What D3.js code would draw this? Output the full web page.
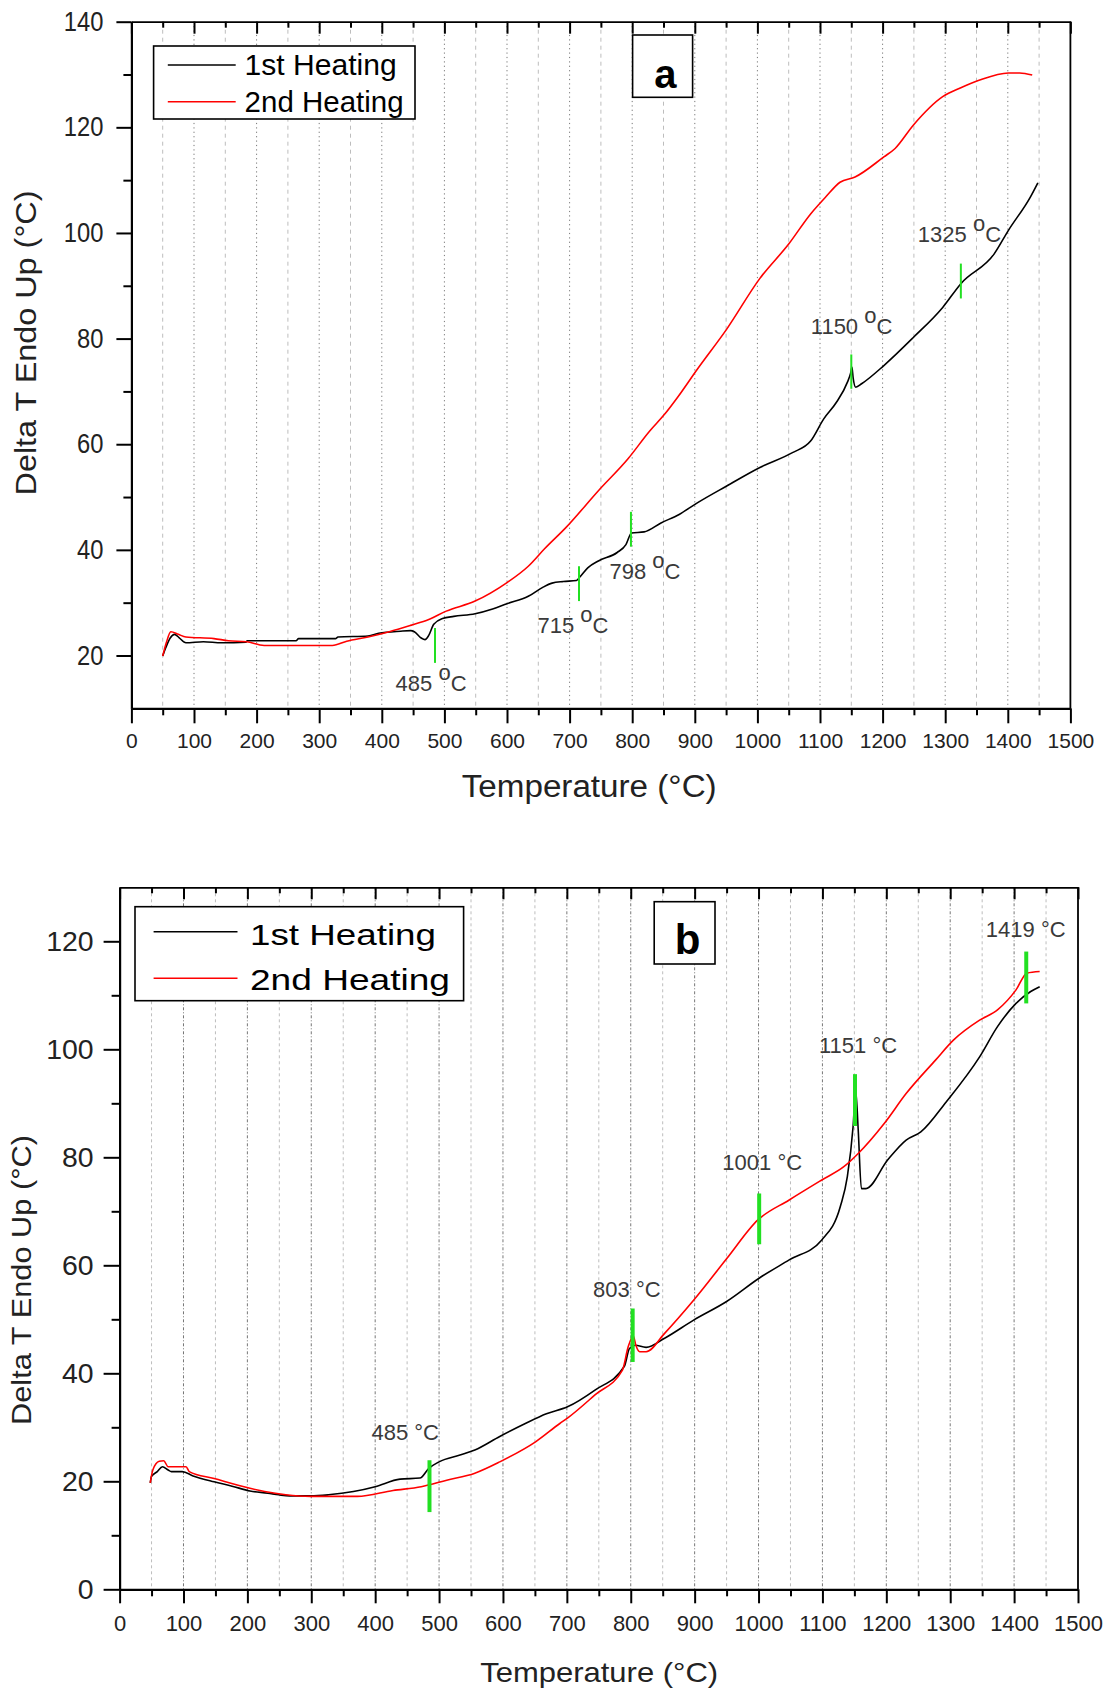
<!DOCTYPE html>
<html>
<head>
<meta charset="utf-8">
<script src="https://cdn.jsdelivr.net/npm/d3@7"></script>
<style>
  body { margin: 0; background: #fff; }
  svg { display: block; }
  text { font-family: "Liberation Sans", Arial, sans-serif; }
</style>
</head>
<body>
<svg id="chart" width="1114" height="1695"></svg>
<script>
// ---- axis ticks ----
const xTickValues = [0, 100, 200, 300, 400, 500, 600, 700, 800, 900, 1000, 1100, 1200, 1300, 1400, 1500];
const xMinorTicks = [50, 150, 250, 350, 450, 550, 650, 750, 850, 950, 1050, 1150, 1250, 1350, 1450];
const yTicksA = [20, 40, 60, 80, 100, 120, 140];
const yMinorA = [30, 50, 70, 90, 110, 130];
const yTicksB = [0, 20, 40, 60, 80, 100, 120];
const yMinorB = [10, 30, 50, 70, 90, 110];

const seriesNames = ["1st Heating", "2nd Heating"];

// ---- panel a: DTA traces [temperature, delta T] ----
const aHeat1 = [[50,19.9],[55,21.5],[62,23.3],[69,24.0],[76,23.4],[87,22.4],[115,22.6],[144,22.4],[183,22.5],[185,22.8],
  [263,22.8],[267,23.2],[326,23.2],[330,23.5],[378,23.7],[395,24.2],[430,24.6],[446,24.7],[452,24.5],[463,23.3],
  [469,23.0],[475,23.8],[483,25.9],[497,27.0],[515,27.4],[549,27.9],[577,28.8],[600,29.8],[634,31.2],[657,32.9],
  [672,33.7],[690,34.0],[711,34.2],[716,34.8],[729,36.6],[746,37.9],[776,39.5],[790,41.0],[799,43.2],[819,43.4],
  [846,45.1],[875,46.7],[904,48.9],[951,52.1],[1004,55.6],[1056,58.4],[1085,60.6],[1106,64.8],[1126,67.9],[1144,71.8],
  [1149,73.5],[1151,74.6],[1153,72.5],[1157,70.8],[1167,71.5],[1202,74.9],[1249,80.2],[1296,85.9],[1325,90.4],
  [1378,96.0],[1401,100.5],[1436,106.8],[1448,109.5]];
const aHeat2 = [[50,19.9],[56,22.5],[63,24.5],[75,24.0],[87,23.5],[132,23.2],[155,22.8],[184,22.6],[212,21.9],[321,21.9],
  [344,22.7],[378,23.5],[412,24.5],[446,25.7],[475,26.8],[503,28.4],[549,30.3],[600,33.8],[634,36.9],[660,40.2],
  [694,44.2],[746,51.2],[793,57.2],[828,62.5],[852,65.7],[872,68.8],[904,74.2],[951,81.8],[1004,91.4],[1050,97.9],
  [1085,103.6],[1109,106.8],[1132,109.6],[1156,110.6],[1202,114.4],[1220,116.0],[1249,120.4],[1296,125.8],[1325,127.5],
  [1354,128.9],[1401,130.3],[1419,130.3],[1439,129.9]];
const aEvents = [485, 715, 798, 1150, 1325];
const aEventSpan = [[18.6,25.2],[30.3,36.9],[40.6,47.2],[70.5,77.0],[87.6,94.2]];

// ---- panel b ----
const bHeat1 = [[48,19.7],[50,20.9],[59,21.8],[67,22.7],[76,22.1],[81,21.8],[98,21.8],[115,21.0],[148,19.9],[176,19.1],
  [204,18.2],[232,17.8],[249,17.5],[266,17.3],[299,17.3],[327,17.5],[366,18.1],[400,19.0],[439,20.4],[470,20.6],
  [484,22.4],[500,23.6],[534,24.9],[556,25.8],[595,28.3],[635,30.7],[668,32.5],[701,33.8],[744,36.9],[790,41.3],
  [798,44.6],[807,45.2],[824,44.8],[853,46.5],[899,49.9],[950,53.3],[1002,57.7],[1048,61.0],[1099,64.7],[1128,70.9],
  [1139,76.4],[1148,85.7],[1152,92.5],[1156,85.1],[1161,74.2],[1168,74.2],[1202,79.5],[1231,83.2],[1254,84.7],
  [1294,90.3],[1346,98.6],[1374,104.2],[1403,108.5],[1426,110.7],[1440,111.6]];
const bHeat2 = [[48,19.7],[52,22.1],[62,23.7],[69,23.8],[76,22.7],[104,22.7],[109,21.8],[148,20.5],[204,18.7],[227,18.1],
  [260,17.5],[299,17.2],[372,17.2],[428,18.3],[472,19.0],[512,20.2],[556,21.5],[595,23.6],[651,27.3],[689,30.7],
  [701,31.7],[744,36.0],[787,40.6],[796,44.9],[804,46.9],[808,45.2],[814,44.0],[824,44.0],[853,47.4],[899,53.6],
  [950,61.2],[999,68.4],[1048,72.1],[1099,75.8],[1134,78.3],[1156,80.7],[1197,86.3],[1231,91.8],
  [1277,98.0],[1305,101.7],[1346,105.4],[1374,107.3],[1403,111.0],[1420,114.1],[1440,114.4]];
const bEvents = [485, 803, 1001, 1151, 1419];
const bEventSpan = [[14.3,23.9],[42.1,52.0],[63.9,73.3],[85.8,95.4],[108.5,118.1]];

const svg = d3.select("#chart");

const panels = [
  {
    tag: "a", left: 131.4, right: 1070.4, top: 21.7, bottom: 708.3, yDomain: [10, 140],
    yTicks: yTicksA, yMinor: yMinorA, heat: [aHeat1, aHeat2], events: aEvents, spans: aEventSpan,
    xFont: 21, xTick: 15, xPad: 10, yFont: 27, yTick: 15, yPad: 13, yDigitW: 13.2,
    majorDash: "1.2,3.2", minorDash: "4,4", markerW: 2, labelFont: 22, degStyle: "sup",
    labelOff: [[-39.4, 63.3], [-41.5, 66.7], [-21.5, 67.3], [-40.5, -20.7], [-43, -21.6]],
    legend: { x0: 153.6, x1: 415, y0: 46, y1: 119, lx0: 167.8, lx1: 235.7, ly: [65, 101.7], tx: 244.6, ty: [75, 111.7], font: 30, tlen: [152, 159] },
    badge: { x0: 632.6, x1: 692.6, y0: 35, y1: 97.3, cx: 665.4, by: 87.5, font: 40 },
    xTitle: { cx: 589.2, by: 797, font: 31, len: 255 },
    yTitle: { bx: 36, cy: 343, font: 29, len: 305 }
  },
  {
    tag: "b", left: 119.6, right: 1078, top: 887.3, bottom: 1589.3, yDomain: [0, 130],
    yTicks: yTicksB, yMinor: yMinorB, heat: [bHeat1, bHeat2], events: bEvents, spans: bEventSpan,
    xFont: 22, xTick: 14, xPad: 12.5, yFont: 28, yTick: 16, yPad: 10, yDigitW: 15.8,
    majorDash: "3,2,1,2", minorDash: "3,3", markerW: 4, labelFont: 22, degStyle: "deg",
    labelOff: [[-58, -20], [-39.6, -11.6], [-36.8, -23.3], [-36, -21.6], [-40.4, -15]],
    legend: { x0: 135, x1: 463.6, y0: 906.7, y1: 1000.7, lx0: 153.6, lx1: 237.5, ly: [931.7, 978.3], tx: 250, ty: [945, 990], font: 30, tlen: [186, 200] },
    badge: { x0: 654.2, x1: 715, y0: 901.7, y1: 964, cx: 687.5, by: 953.5, font: 42 },
    xTitle: { cx: 599.2, by: 1681.7, font: 28, len: 238 },
    yTitle: { bx: 31, cy: 1280, font: 28, len: 290 }
  }
];

const colors = ["#000000", "#ff0000"];
const green = "#22e022";

panels.forEach(p => {
  const g = svg.append("g");
  const x = d3.scaleLinear().domain([0, 1500]).range([p.left, p.right]);
  const y = d3.scaleLinear().domain(p.yDomain).range([p.bottom, p.top]);

  // vertical grid lines
  g.append("g").selectAll("line").data(xMinorTicks).join("line")
    .attr("x1", d => x(d)).attr("x2", d => x(d))
    .attr("y1", p.top).attr("y2", p.bottom)
    .attr("stroke", "#bdbdbd").attr("stroke-width", 1)
    .attr("stroke-dasharray", p.minorDash);
  g.append("g").selectAll("line").data(xTickValues.slice(1, -1)).join("line")
    .attr("x1", d => x(d)).attr("x2", d => x(d))
    .attr("y1", p.top).attr("y2", p.bottom)
    .attr("stroke", "#777").attr("stroke-width", 1)
    .attr("stroke-dasharray", p.majorDash);

  // DTA traces
  const line = d3.line().curve(d3.curveMonotoneX).x(d => x(d[0])).y(d => y(d[1]));
  p.heat.forEach((s, i) => {
    g.append("path").datum(s)
      .attr("d", line)
      .attr("fill", "none")
      .attr("stroke", colors[i])
      .attr("stroke-width", 1.6)
      .attr("stroke-linejoin", "round");
  });

  // transition markers and their temperature labels
  p.events.forEach((t, i) => {
    const mx = x(t);
    const yTop = y(p.spans[i][1]);
    g.append("line")
      .attr("x1", mx).attr("x2", mx)
      .attr("y1", yTop).attr("y2", y(p.spans[i][0]))
      .attr("stroke", green).attr("stroke-width", p.markerW);
    const lbl = g.append("text")
      .attr("x", mx + p.labelOff[i][0])
      .attr("y", yTop + p.labelOff[i][1])
      .attr("font-size", p.labelFont)
      .attr("fill", "#3a3a3a");
    if (p.degStyle === "sup") {
      lbl.append("tspan").text(t + " ");
      lbl.append("tspan").attr("dy", -11).text("o");
      lbl.append("tspan").attr("dy", 11).text("C");
    } else {
      lbl.text(t + " \u00B0C");
    }
  });

  // legend
  const L = p.legend;
  g.append("rect")
    .attr("x", L.x0).attr("y", L.y0)
    .attr("width", L.x1 - L.x0).attr("height", L.y1 - L.y0)
    .attr("fill", "#fff").attr("stroke", "#000").attr("stroke-width", 1.6);
  seriesNames.forEach((name, i) => {
    g.append("line")
      .attr("x1", L.lx0).attr("x2", L.lx1)
      .attr("y1", L.ly[i]).attr("y2", L.ly[i])
      .attr("stroke", colors[i]).attr("stroke-width", 1.6);
    g.append("text")
      .attr("x", L.tx).attr("y", L.ty[i])
      .attr("font-size", L.font)
      .attr("textLength", L.tlen[i]).attr("lengthAdjust", "spacingAndGlyphs")
      .attr("fill", "#000")
      .text(name);
  });

  // panel tag
  const B = p.badge;
  g.append("rect")
    .attr("x", B.x0).attr("y", B.y0)
    .attr("width", B.x1 - B.x0).attr("height", B.y1 - B.y0)
    .attr("fill", "#fff").attr("stroke", "#000").attr("stroke-width", 1.6);
  g.append("text")
    .attr("x", B.cx).attr("y", B.by)
    .attr("text-anchor", "middle")
    .attr("font-size", B.font).attr("font-weight", "bold")
    .text(p.tag);

  // axes
  const bottomMajor = g.append("g").attr("transform", `translate(0,${p.bottom})`)
    .call(d3.axisBottom(x).tickValues(xTickValues).tickSize(p.xTick).tickPadding(p.xPad)
      .tickSizeOuter(0).tickFormat(d3.format("d")));
  bottomMajor.selectAll("text").attr("font-size", p.xFont).attr("fill", "#222");
  bottomMajor.select(".domain").attr("stroke-width", 2.2);
  bottomMajor.selectAll(".tick line").attr("stroke-width", 2);

  const bottomMinor = g.append("g").attr("transform", `translate(0,${p.bottom})`)
    .call(d3.axisBottom(x).tickValues(xMinorTicks).tickSize(7).tickSizeOuter(0).tickFormat(""));
  bottomMinor.select(".domain").remove();
  bottomMinor.selectAll(".tick line").attr("stroke-width", 2);

  const topMajor = g.append("g").attr("transform", `translate(0,${p.top})`)
    .call(d3.axisBottom(x).tickValues(xTickValues).tickSize(12).tickSizeOuter(0).tickFormat(""));
  topMajor.select(".domain").attr("stroke-width", 1.8);
  topMajor.selectAll(".tick line").attr("stroke-width", 2);
  const topMinor = g.append("g").attr("transform", `translate(0,${p.top})`)
    .call(d3.axisBottom(x).tickValues(xMinorTicks).tickSize(6).tickSizeOuter(0).tickFormat(""));
  topMinor.select(".domain").remove();
  topMinor.selectAll(".tick line").attr("stroke-width", 2);

  const leftMajor = g.append("g").attr("transform", `translate(${p.left},0)`)
    .call(d3.axisLeft(y).tickValues(p.yTicks).tickSize(p.yTick).tickPadding(p.yPad)
      .tickSizeOuter(0).tickFormat(d3.format("d")));
  leftMajor.selectAll("text")
    .attr("font-size", p.yFont).attr("fill", "#222")
    .attr("textLength", d => String(d).length * p.yDigitW)
    .attr("lengthAdjust", "spacingAndGlyphs");
  leftMajor.select(".domain").attr("stroke-width", 2.2);
  leftMajor.selectAll(".tick line").attr("stroke-width", 2);
  const leftMinor = g.append("g").attr("transform", `translate(${p.left},0)`)
    .call(d3.axisLeft(y).tickValues(p.yMinor).tickSize(8).tickSizeOuter(0).tickFormat(""));
  leftMinor.select(".domain").remove();
  leftMinor.selectAll(".tick line").attr("stroke-width", 2);

  g.append("line")
    .attr("x1", p.right).attr("x2", p.right)
    .attr("y1", p.top).attr("y2", p.bottom)
    .attr("stroke", "#000").attr("stroke-width", 1.8);

  // axis titles
  const XT = p.xTitle;
  g.append("text")
    .attr("x", XT.cx).attr("y", XT.by)
    .attr("text-anchor", "middle")
    .attr("font-size", XT.font).attr("fill", "#222")
    .attr("textLength", XT.len).attr("lengthAdjust", "spacingAndGlyphs")
    .text("Temperature (\u00B0C)");
  const YT = p.yTitle;
  g.append("text")
    .attr("transform", `translate(${YT.bx},${YT.cy}) rotate(-90)`)
    .attr("text-anchor", "middle")
    .attr("font-size", YT.font).attr("fill", "#222")
    .attr("textLength", YT.len).attr("lengthAdjust", "spacingAndGlyphs")
    .text("Delta T Endo Up (\u00B0C)");
});
</script>
</body>
</html>
